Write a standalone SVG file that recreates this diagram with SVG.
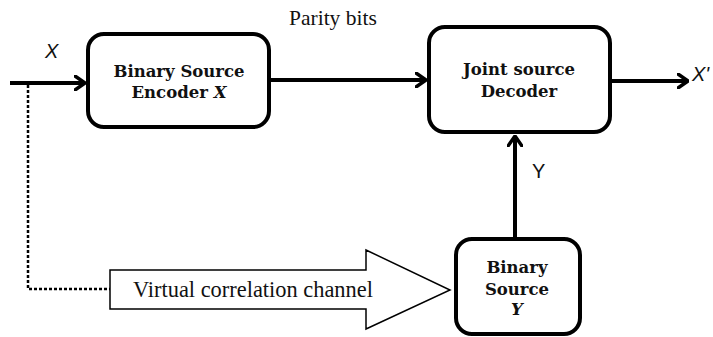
<svg xmlns="http://www.w3.org/2000/svg" width="713" height="337" viewBox="0 0 713 337">
<style>
.box{fill:#fff;stroke:#000;stroke-width:4}
.t{font-family:"DejaVu Serif","Liberation Serif",serif;font-weight:bold;font-size:16.5px;text-anchor:middle;fill:#111}
.w{stroke:#000;stroke-width:4;fill:none}
.lab{font-family:"Liberation Sans",Arial,sans-serif;font-size:20px;fill:#111}
.ser{font-family:"Liberation Serif","Times New Roman",serif;font-size:21px;fill:#111}
</style>
<defs>
<marker id="ah" viewBox="0 0 12 16" refX="11" refY="8" markerWidth="12" markerHeight="16" markerUnits="userSpaceOnUse" orient="auto">
<path d="M1,1 L11,8 L1,15" fill="none" stroke="#000" stroke-width="3.5" stroke-linecap="round" stroke-linejoin="round"/>
</marker>
</defs>
<g id="connectors">
<line class="w" x1="10" y1="83" x2="85" y2="83" marker-end="url(#ah)"/>
<line class="w" x1="270" y1="80" x2="426" y2="80" marker-end="url(#ah)"/>
<line class="w" x1="610" y1="81" x2="688" y2="81" marker-end="url(#ah)"/>
<line class="w" x1="515" y1="237" x2="515" y2="136" marker-end="url(#ah)"/>
<polyline points="28,85 28,289 110,289" fill="none" stroke="#000" stroke-width="2.5" stroke-dasharray="3,2"/>
<text class="lab" x="45" y="58" font-style="italic">X</text>
<text class="lab" x="692" y="81" font-style="italic">X'</text>
<text class="lab" x="532" y="178">Y</text>
<text class="ser" x="289" y="25" style="font-size:21.5px">Parity bits</text>
</g>
<g id="encoder">
<rect class="box" x="88" y="34" width="181" height="93" rx="16"/>
<text class="t" x="179" y="77">Binary Source</text>
<text class="t" x="179" y="98">Encoder <tspan font-style="italic">X</tspan></text>
</g>
<g id="decoder">
<rect class="box" x="429" y="27" width="181" height="105" rx="16"/>
<text class="t" x="519" y="75">Joint source</text>
<text class="t" x="519" y="97">Decoder</text>
</g>
<g id="sourceY">
<rect class="box" x="456" y="239" width="124" height="95" rx="16"/>
<text class="t" x="517" y="273">Binary</text>
<text class="t" x="517" y="295">Source</text>
<text class="t" x="517" y="315" font-style="italic">Y</text>
</g>
<g id="channel">
<polygon points="110,270 366,270 366,250 450,290 366,329 366,309 110,309" fill="#fff" stroke="#000" stroke-width="1.5"/>
<text class="ser" x="133" y="297" style="font-size:22.4px">Virtual correlation channel</text>
</g>
</svg>
